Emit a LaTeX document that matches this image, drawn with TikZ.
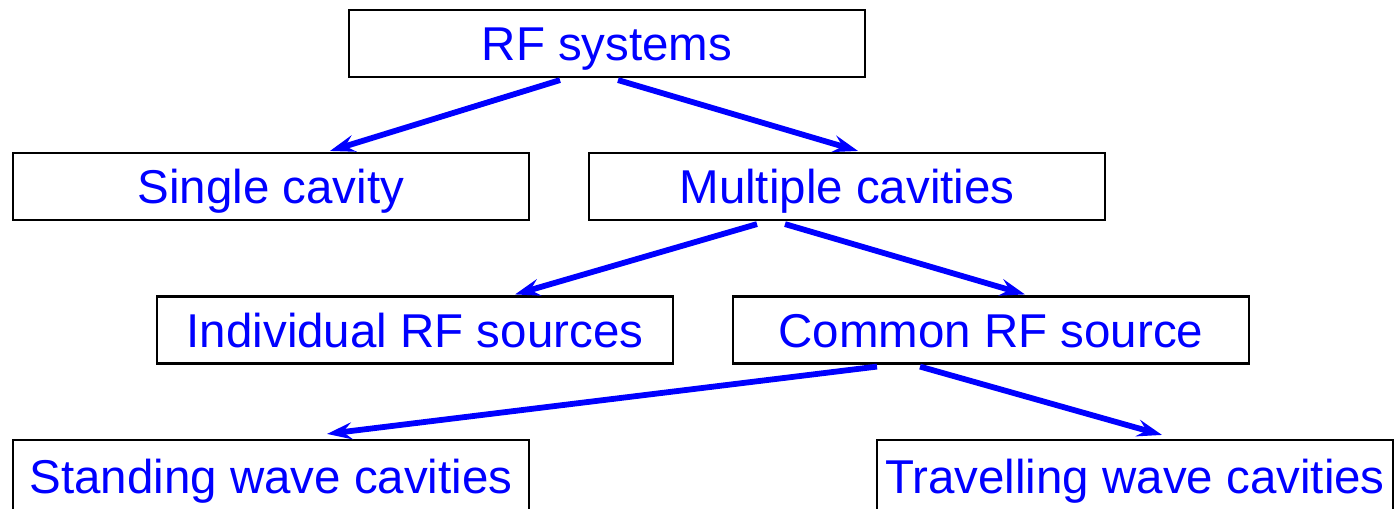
\documentclass[tikz,border=0pt]{standalone}
\usepackage{fontspec}
\setmainfont{Liberation Sans}
\usetikzlibrary{arrows.meta,calc}
\begin{document}
\begin{tikzpicture}[
      x=0.01cm, y=-0.01cm,
      every node/.style={font=\fontsize{13.5}{16}\selectfont},
      box/.style={rectangle, draw=black, line width=0.6pt, text=blue, minimum width=5.16cm, minimum height=0.67cm, inner sep=0pt, text height=0.38cm, text depth=0.04cm},
      link/.style={draw=blue, line width=1.65pt, -{Stealth[length=0.25cm, width=0.17cm, inset=0.09cm]}}
  ]
    \useasboundingbox (0,0) rectangle (1394,508);
    \node[box] (rf) at (607,43.5) {RF systems};
    \node[box] (single) at (271,186.5) {Single cavity};
    \node[box] (multi) at (847,186.5) {Multiple cavities};
    \node[box] (indiv) at (415,330) {Individual RF sources};
    \node[box] (common) at (991,330) {Common RF source};
    \node[box, minimum height=0.72cm] (standing) at (271,476) {Standing wave cavities};
    \node[box, minimum height=0.72cm] (travel) at (1135,476) {Travelling wave cavities};

    \draw[link] ($(rf.south)+(-47,2)$) -- ($(single.north)+(59,-1)$);
    \draw[link] ($(rf.south)+(11,2)$) -- ($(multi.north)+(11,-1)$);
    \draw[link] ($(multi.south)+(-90,3)$) -- ($(indiv.north)+(100,-1)$);
    \draw[link] ($(multi.south)+(-62,3)$) -- ($(common.north)+(34,-1)$);
    \draw[link] ($(common.south)+(-114,2)$) -- ($(standing.north)+(56,-5)$);
    \draw[link] ($(common.south)+(-71,2)$) -- ($(travel.north)+(27,-4)$);
  \end{tikzpicture}
\end{document}
